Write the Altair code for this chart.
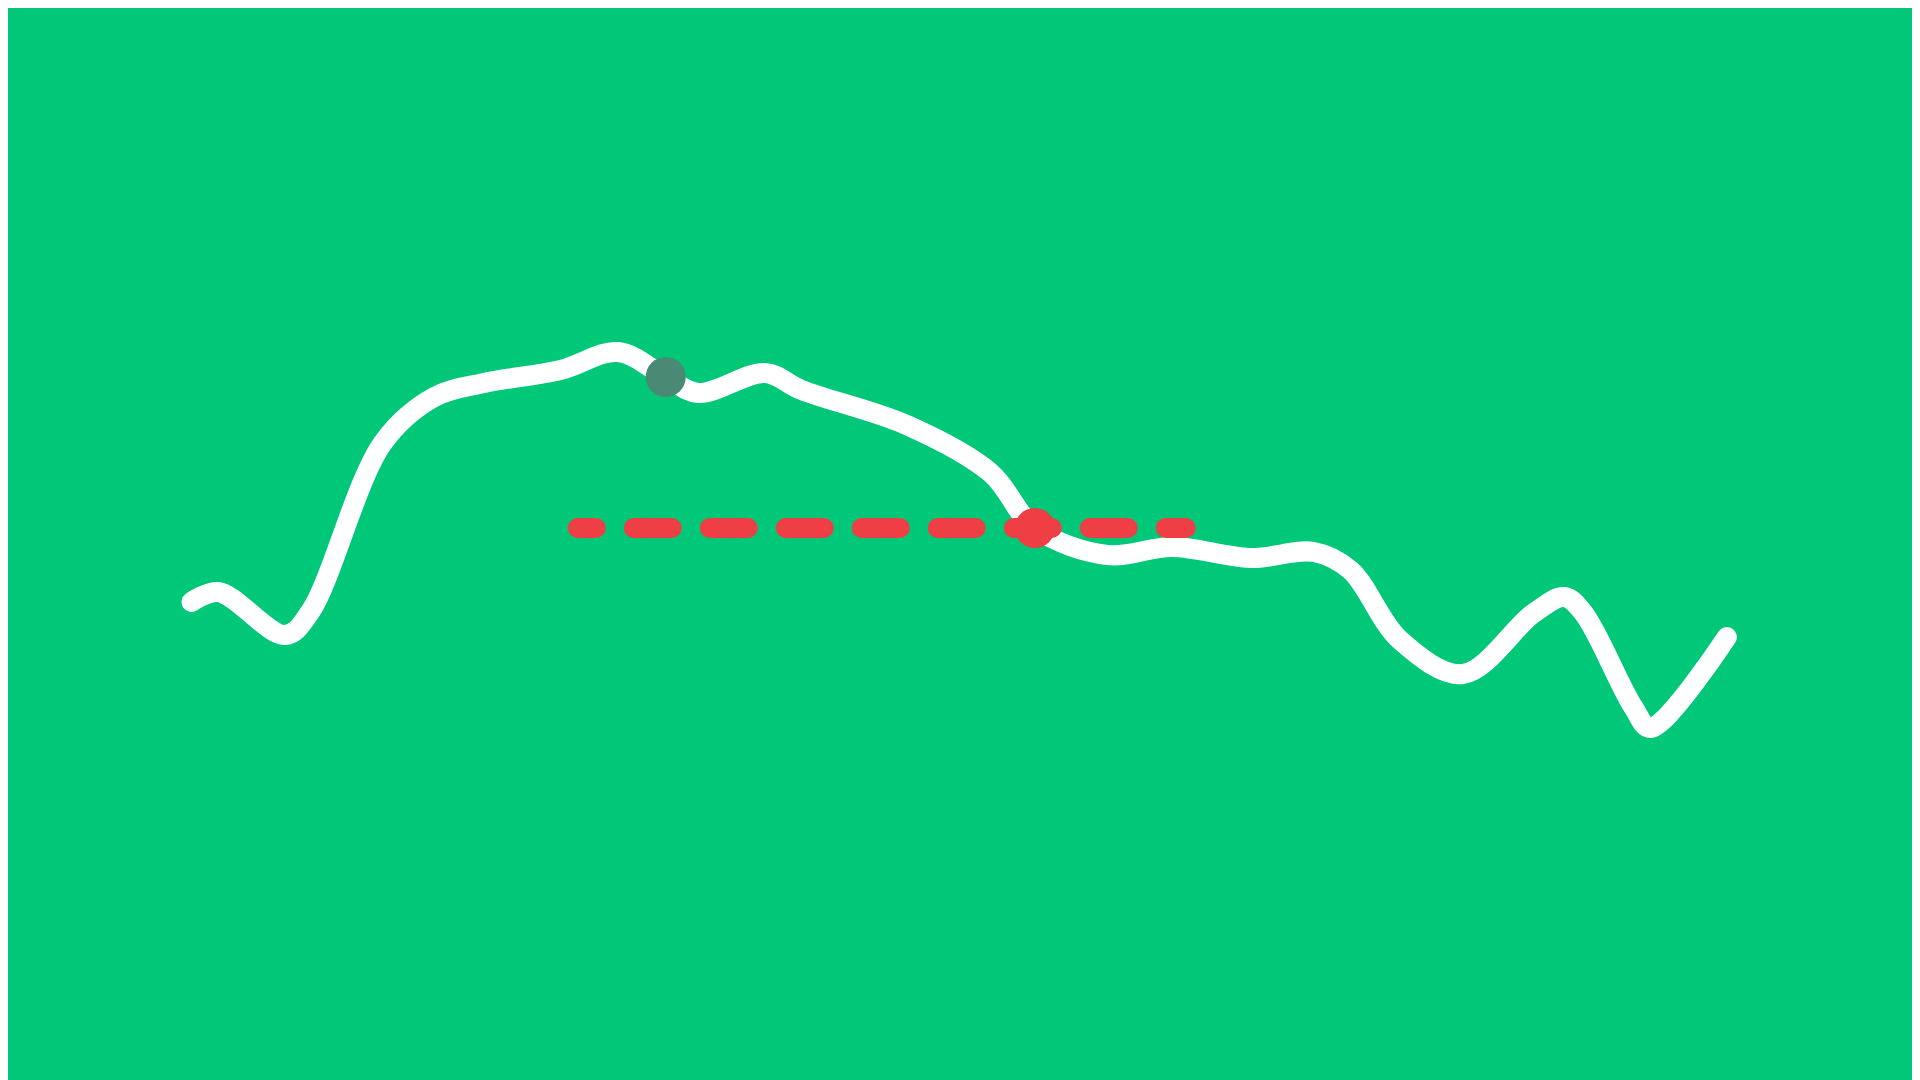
import altair as alt
import pandas as pd

# Series (x in abstract time units, y in value units)
xs = [9.6, 11.0, 14.5, 15.8, 19.6, 22.3, 24.9, 28.9, 31.9, 34.4, 36.1, 39.6, 41.5, 47.0,
      51.4, 53.7, 57.5, 60.9, 65.0, 68.3, 70.2, 72.8, 76.1, 79.8, 81.4, 82.4, 85.0, 85.9, 89.9]
ys = [47.8, 48.8, 44.5, 46.8, 63.7, 68.3, 69.7, 71.0, 72.8, 70.3, 68.7, 70.7, 69.0, 65.5,
      60.7, 55.2, 52.5, 53.3, 52.2, 52.8, 51.0, 44.0, 40.6, 46.7, 48.3, 46.7, 37.3, 35.2, 44.3]

# Reference level (dashed rule)
ref_level = [55.2]
ref_start = [29.8]
ref_end = [61.6]

# Highlighted points
highlight_x = [34.4, 53.7]
highlight_y = [70.3, 55.2]
highlight_kind = ["start", "cross"]

line_df = pd.DataFrame({"x": xs, "y": ys})
rule_df = pd.DataFrame({"x": ref_start, "x2": ref_end, "y": ref_level})
pts_df = pd.DataFrame({"x": highlight_x, "y": highlight_y, "kind": highlight_kind})

xscale = alt.Scale(domain=[0, 99.58], nice=False, zero=False)
yscale = alt.Scale(domain=[0, 107.2], nice=False, zero=False)

line = alt.Chart(line_df).mark_line(
    color="white", strokeWidth=20, strokeCap="round", strokeJoin="round",
    interpolate="catmull-rom"
).encode(
    x=alt.X("x:Q", scale=xscale, axis=None),
    y=alt.Y("y:Q", scale=yscale, axis=None),
)

rule = alt.Chart(rule_df).mark_rule(
    color="#EF3E44", strokeWidth=20, strokeCap="round",
    strokeDash=[38, 38], strokeDashOffset=20
).encode(
    x=alt.X("x:Q", scale=xscale, axis=None),
    x2="x2:Q",
    y=alt.Y("y:Q", scale=yscale, axis=None),
)

pts = alt.Chart(pts_df).mark_circle(size=1600, opacity=1).encode(
    x=alt.X("x:Q", scale=xscale, axis=None),
    y=alt.Y("y:Q", scale=yscale, axis=None),
    color=alt.Color("kind:N", scale=alt.Scale(domain=["start", "cross"],
                                              range=["#4A8A74", "#EF3E44"]), legend=None),
)

chart = alt.layer(line, rule, pts).properties(
    width=1904, height=1072, background="#00C878", padding=0,
    autosize=alt.AutoSizeParams(type="none")
).configure_view(stroke=None)

chart.save("out.html", embed_options={"renderer": "svg", "actions": False})
